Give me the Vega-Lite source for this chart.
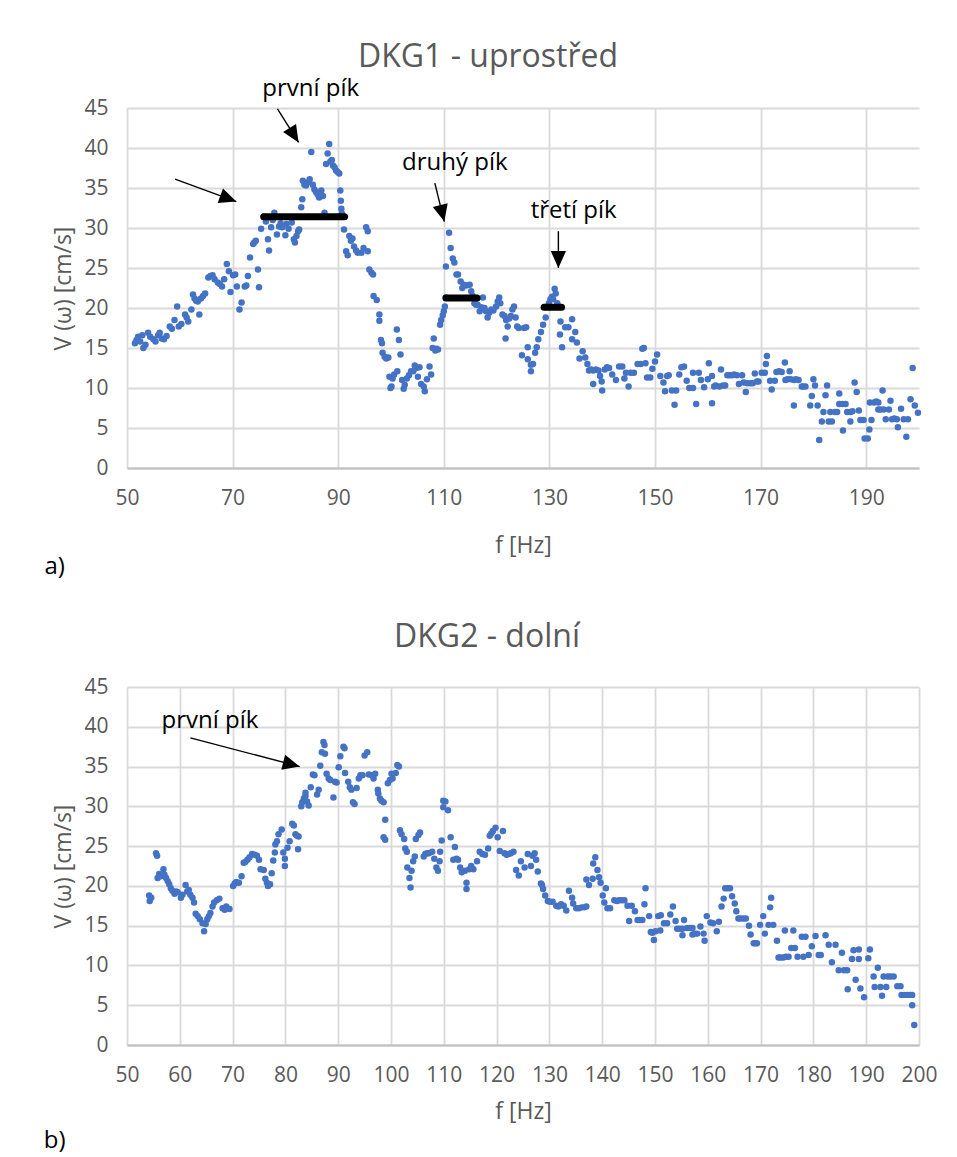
{
  "$schema": "https://vega.github.io/schema/vega-lite/v6.json",
  "background": "white",
  "padding": {"left": 43, "top": 41, "right": 10, "bottom": 5},
  "spacing": 41,
  "config": {
    "view": {"stroke": null},
    "font": "Open Sans",
    "axis": {
      "labelFont": "Open Sans", "labelFontSize": 21, "labelColor": "#595959", "labelOverlap": false, "labelFlush": false,
      "titleFont": "Open Sans", "titleFontSize": 23, "titleColor": "#595959", "titleFontWeight": "normal",
      "gridColor": "#d9d9d9", "gridWidth": 1.8, "ticks": false, "domain": false
    },
    "axisX": {"domain": true, "domainColor": "#bfbfbf", "domainWidth": 1.8, "labelPadding": 19, "titlePadding": 26},
    "axisY": {"labelPadding": 19, "titlePadding": 8},
    "title": {"font": "Open Sans", "fontSize": 32, "color": "#595959", "fontWeight": "normal", "anchor": "middle"}
  },
  "datasets": {
    "dkg1": [
      {"f":51.5,"v":15.6},{"f":51.8,"v":16.0},{"f":52.1,"v":16.4},{"f":52.5,"v":15.8},{"f":52.9,"v":16.6},{"f":53.1,"v":15.0},{"f":53.5,"v":15.4},{"f":54.0,"v":16.9},{"f":54.4,"v":16.4},{"f":55.0,"v":16.1},
      {"f":55.4,"v":15.8},{"f":55.9,"v":16.6},{"f":56.2,"v":16.9},{"f":56.6,"v":16.2},{"f":57.0,"v":16.1},{"f":57.5,"v":16.5},{"f":58.1,"v":17.7},{"f":58.5,"v":17.4},{"f":59.0,"v":18.5},{"f":59.5,"v":20.2},
      {"f":59.8,"v":17.7},{"f":60.3,"v":18.0},{"f":61.0,"v":19.2},{"f":61.3,"v":18.8},{"f":61.6,"v":18.3},{"f":62.2,"v":19.8},{"f":62.5,"v":21.7},{"f":62.8,"v":21.2},{"f":63.1,"v":20.9},{"f":63.4,"v":20.8},
      {"f":63.7,"v":19.2},{"f":64.0,"v":21.2},{"f":64.4,"v":21.5},{"f":64.8,"v":21.8},{"f":65.4,"v":23.8},{"f":65.8,"v":24.0},{"f":66.2,"v":24.1},{"f":66.6,"v":23.6},{"f":67.2,"v":23.2},{"f":67.6,"v":23.0},
      {"f":68.0,"v":22.7},{"f":68.4,"v":23.6},{"f":68.9,"v":25.5},{"f":69.3,"v":24.6},{"f":69.6,"v":22.0},{"f":70.1,"v":24.1},{"f":70.5,"v":24.2},{"f":70.8,"v":22.7},{"f":71.3,"v":19.8},{"f":71.7,"v":20.7},
      {"f":72.3,"v":22.7},{"f":72.6,"v":22.8},{"f":72.9,"v":24.0},{"f":73.3,"v":26.3},{"f":73.9,"v":28.0},{"f":74.1,"v":28.2},{"f":74.4,"v":28.4},{"f":74.8,"v":24.8},{"f":75.0,"v":22.6},{"f":75.4,"v":29.9},
      {"f":75.9,"v":31.4},{"f":76.3,"v":30.8},{"f":76.7,"v":28.6},{"f":76.9,"v":27.2},{"f":77.3,"v":30.1},{"f":77.6,"v":31.0},{"f":77.9,"v":31.9},{"f":78.4,"v":29.2},{"f":78.8,"v":30.2},{"f":79.1,"v":30.6},
      {"f":79.4,"v":30.1},{"f":80.0,"v":29.1},{"f":80.2,"v":30.5},{"f":80.6,"v":29.9},{"f":81.2,"v":30.7},{"f":81.6,"v":28.6},{"f":81.8,"v":28.2},{"f":82.1,"v":29.0},{"f":82.4,"v":29.6},{"f":82.6,"v":29.8},
      {"f":83.0,"v":32.6},{"f":83.2,"v":33.6},{"f":83.3,"v":35.9},{"f":83.6,"v":35.4},{"f":83.9,"v":35.3},{"f":84.2,"v":35.7},{"f":84.6,"v":36.1},{"f":84.9,"v":39.5},{"f":85.2,"v":35.4},{"f":85.5,"v":34.8},
      {"f":85.8,"v":34.5},{"f":86.1,"v":34.2},{"f":86.4,"v":33.8},{"f":86.8,"v":34.7},{"f":87.1,"v":34.0},{"f":87.4,"v":31.9},{"f":87.7,"v":38.0},{"f":88.0,"v":39.3},{"f":88.3,"v":40.5},{"f":88.5,"v":38.3},
      {"f":88.8,"v":38.5},{"f":89.0,"v":37.8},{"f":89.3,"v":37.6},{"f":89.6,"v":37.2},{"f":89.9,"v":37.0},{"f":90.2,"v":36.8},{"f":90.4,"v":34.7},{"f":90.5,"v":33.4},{"f":90.6,"v":32.4},{"f":90.7,"v":31.8},
      {"f":91.1,"v":29.8},{"f":91.5,"v":27.1},{"f":91.8,"v":26.6},{"f":92.1,"v":29.0},{"f":92.4,"v":28.4},{"f":92.7,"v":28.7},{"f":93.0,"v":27.7},{"f":93.4,"v":27.2},{"f":93.7,"v":26.9},{"f":94.4,"v":26.9},
      {"f":94.8,"v":27.5},{"f":95.3,"v":30.1},{"f":95.6,"v":29.6},{"f":95.6,"v":27.1},{"f":95.9,"v":24.8},{"f":96.3,"v":24.4},{"f":96.6,"v":24.2},{"f":96.7,"v":21.5},{"f":97.3,"v":21.0},{"f":97.8,"v":19.2},
      {"f":97.8,"v":18.4},{"f":98.1,"v":16.0},{"f":98.3,"v":15.6},{"f":98.4,"v":14.4},{"f":98.8,"v":13.9},{"f":99.1,"v":13.7},{"f":99.5,"v":13.8},{"f":99.7,"v":11.4},{"f":99.9,"v":10.0},{"f":100.1,"v":10.2},
      {"f":100.3,"v":11.2},{"f":100.6,"v":11.7},{"f":101.1,"v":17.3},{"f":101.2,"v":12.1},{"f":101.5,"v":16.0},{"f":101.8,"v":14.2},{"f":102.1,"v":11.0},{"f":102.4,"v":9.9},{"f":102.6,"v":10.4},{"f":103.0,"v":11.2},
      {"f":103.4,"v":11.6},{"f":103.8,"v":12.1},{"f":104.2,"v":12.1},{"f":104.5,"v":12.8},{"f":104.8,"v":12.5},{"f":105.1,"v":11.4},{"f":105.4,"v":12.6},{"f":105.7,"v":10.5},{"f":106.2,"v":10.2},{"f":106.4,"v":9.6},
      {"f":106.8,"v":11.1},{"f":107.3,"v":12.7},{"f":107.6,"v":11.7},{"f":107.9,"v":15.0},{"f":108.1,"v":16.2},{"f":108.4,"v":14.7},{"f":108.6,"v":14.9},{"f":108.9,"v":14.8},{"f":109.3,"v":17.9},{"f":109.5,"v":18.5},
      {"f":109.8,"v":19.1},{"f":110.0,"v":19.6},{"f":110.2,"v":20.2},{"f":110.4,"v":21.3},{"f":110.4,"v":25.2},{"f":111.0,"v":29.4},{"f":111.3,"v":27.5},{"f":111.7,"v":26.2},{"f":112.0,"v":25.7},{"f":112.4,"v":24.2},
      {"f":112.7,"v":24.2},{"f":113.2,"v":23.3},{"f":113.5,"v":22.5},{"f":113.8,"v":22.9},{"f":114.3,"v":22.8},{"f":114.9,"v":22.9},{"f":115.2,"v":22.1},{"f":115.5,"v":21.5},{"f":115.8,"v":20.6},{"f":116.1,"v":20.4},
      {"f":116.4,"v":20.4},{"f":116.8,"v":19.6},{"f":117.1,"v":20.1},{"f":117.4,"v":21.3},{"f":117.7,"v":20.0},{"f":118.0,"v":19.6},{"f":118.3,"v":18.8},{"f":118.6,"v":19.4},{"f":119.0,"v":19.8},{"f":119.4,"v":19.7},
      {"f":119.9,"v":20.2},{"f":120.2,"v":20.8},{"f":120.5,"v":21.3},{"f":120.7,"v":20.6},{"f":121.1,"v":19.2},{"f":121.5,"v":19.0},{"f":121.7,"v":16.2},{"f":121.8,"v":18.5},{"f":122.1,"v":17.7},{"f":122.4,"v":18.7},
      {"f":122.7,"v":19.0},{"f":123.0,"v":19.8},{"f":123.3,"v":20.2},{"f":123.6,"v":18.8},{"f":123.9,"v":17.7},{"f":124.2,"v":17.5},{"f":124.8,"v":14.1},{"f":125.2,"v":17.5},{"f":125.6,"v":17.6},{"f":125.9,"v":15.1},
      {"f":125.9,"v":13.6},{"f":126.5,"v":12.9},{"f":126.5,"v":12.1},{"f":126.9,"v":13.0},{"f":127.3,"v":14.4},{"f":127.6,"v":15.1},{"f":127.9,"v":16.1},{"f":128.4,"v":17.0},{"f":128.8,"v":17.9},{"f":129.3,"v":18.8},
      {"f":129.9,"v":20.6},{"f":130.2,"v":21.1},{"f":130.5,"v":21.4},{"f":130.7,"v":21.1},{"f":131.0,"v":22.4},{"f":131.2,"v":21.8},{"f":131.5,"v":20.6},{"f":132.1,"v":18.3},{"f":132.0,"v":16.7},{"f":132.4,"v":15.1},
      {"f":133.0,"v":17.6},{"f":133.6,"v":17.6},{"f":134.3,"v":18.6},{"f":134.3,"v":16.1},{"f":134.9,"v":17.0},{"f":135.2,"v":15.7},{"f":135.7,"v":13.7},{"f":136.3,"v":14.6},{"f":136.8,"v":13.8},{"f":137.2,"v":13.0},
      {"f":137.5,"v":12.2},{"f":137.9,"v":12.3},{"f":138.3,"v":12.2},{"f":138.3,"v":10.5},{"f":138.8,"v":12.3},{"f":139.3,"v":12.2},{"f":139.6,"v":11.5},{"f":139.9,"v":10.8},{"f":140.0,"v":9.7},{"f":140.5,"v":12.3},
      {"f":140.9,"v":12.6},{"f":141.3,"v":12.5},{"f":141.9,"v":11.7},{"f":142.6,"v":11.0},{"f":143.2,"v":12.7},{"f":143.8,"v":12.7},{"f":144.2,"v":11.2},{"f":144.5,"v":11.9},{"f":145.0,"v":10.2},{"f":145.4,"v":11.9},
      {"f":146.0,"v":11.9},{"f":146.7,"v":13.0},{"f":147.3,"v":13.0},{"f":147.6,"v":14.9},{"f":147.9,"v":15.0},{"f":148.2,"v":13.1},{"f":148.5,"v":11.3},{"f":149.1,"v":11.3},{"f":149.5,"v":12.4},{"f":150.0,"v":13.3},
      {"f":150.4,"v":14.2},{"f":151.0,"v":11.5},{"f":151.6,"v":10.7},{"f":151.9,"v":9.6},{"f":152.3,"v":11.5},{"f":152.6,"v":11.6},{"f":153.2,"v":9.7},{"f":153.7,"v":7.9},{"f":154.0,"v":9.7},{"f":154.6,"v":11.7},
      {"f":155.0,"v":12.6},{"f":155.5,"v":12.7},{"f":156.0,"v":10.9},{"f":156.5,"v":10.0},{"f":157.2,"v":10.0},{"f":157.2,"v":11.9},{"f":157.8,"v":8.0},{"f":158.3,"v":11.9},{"f":158.7,"v":11.0},{"f":159.3,"v":10.1},
      {"f":160.0,"v":11.1},{"f":160.2,"v":13.1},{"f":160.8,"v":8.1},{"f":160.8,"v":11.5},{"f":161.2,"v":10.2},{"f":161.5,"v":10.3},{"f":162.2,"v":10.2},{"f":162.5,"v":12.3},{"f":162.9,"v":10.3},{"f":163.3,"v":10.3},
      {"f":163.7,"v":11.6},{"f":164.1,"v":11.6},{"f":164.6,"v":11.6},{"f":165.0,"v":11.7},{"f":165.5,"v":11.6},{"f":165.9,"v":10.5},{"f":166.5,"v":11.6},{"f":166.8,"v":10.7},{"f":167.2,"v":9.5},{"f":167.5,"v":10.6},
      {"f":168.1,"v":10.6},{"f":168.5,"v":10.6},{"f":168.9,"v":11.8},{"f":169.3,"v":10.8},{"f":169.6,"v":10.8},{"f":170.2,"v":11.9},{"f":170.8,"v":11.9},{"f":171.0,"v":13.0},{"f":171.2,"v":14.0},{"f":171.8,"v":10.9},
      {"f":172.1,"v":9.8},{"f":172.7,"v":10.9},{"f":173.0,"v":12.0},{"f":173.5,"v":12.1},{"f":174.0,"v":12.0},{"f":174.6,"v":13.2},{"f":174.7,"v":11.0},{"f":175.1,"v":11.1},{"f":175.5,"v":12.1},{"f":175.7,"v":11.1},
      {"f":176.3,"v":11.0},{"f":176.3,"v":7.8},{"f":176.7,"v":11.1},{"f":177.2,"v":11.0},{"f":177.8,"v":10.2},{"f":178.1,"v":10.2},{"f":178.5,"v":10.2},{"f":179.4,"v":7.8},{"f":179.7,"v":9.0},{"f":180.0,"v":11.1},
      {"f":180.3,"v":10.3},{"f":180.8,"v":7.8},{"f":181.1,"v":3.5},{"f":181.6,"v":5.8},{"f":181.9,"v":7.0},{"f":182.3,"v":9.1},{"f":182.6,"v":10.3},{"f":182.9,"v":5.8},{"f":183.2,"v":7.0},{"f":183.5,"v":5.8},
      {"f":184.1,"v":7.0},{"f":184.5,"v":7.0},{"f":184.9,"v":9.3},{"f":184.9,"v":8.0},{"f":185.5,"v":8.0},{"f":185.6,"v":4.7},{"f":186.1,"v":8.0},{"f":186.4,"v":7.0},{"f":187.0,"v":7.0},{"f":187.0,"v":5.8},
      {"f":187.4,"v":7.1},{"f":187.8,"v":10.7},{"f":188.2,"v":9.5},{"f":188.6,"v":7.2},{"f":188.9,"v":6.0},{"f":189.5,"v":6.0},{"f":189.7,"v":3.7},{"f":190.3,"v":3.7},{"f":190.6,"v":4.8},{"f":190.7,"v":8.2},
      {"f":191.0,"v":6.0},{"f":191.5,"v":8.2},{"f":191.9,"v":8.3},{"f":192.3,"v":8.2},{"f":192.3,"v":7.3},{"f":192.7,"v":7.3},{"f":193.1,"v":9.7},{"f":193.3,"v":7.3},{"f":193.7,"v":6.1},{"f":194.3,"v":7.3},
      {"f":194.6,"v":8.4},{"f":194.9,"v":6.1},{"f":195.3,"v":6.2},{"f":195.8,"v":6.1},{"f":196.0,"v":5.1},{"f":196.6,"v":7.4},{"f":197.1,"v":6.1},{"f":197.6,"v":3.9},{"f":197.9,"v":6.1},{"f":198.4,"v":8.6},
      {"f":198.8,"v":12.5},{"f":199.2,"v":7.8},{"f":199.8,"v":6.9}
    ],
    "dkg2": [
      {"f":54.2,"v":18.8},{"f":54.3,"v":18.1},{"f":54.6,"v":18.5},{"f":55.5,"v":24.1},{"f":55.7,"v":23.8},{"f":55.8,"v":21.0},{"f":56.1,"v":21.5},{"f":56.4,"v":21.2},{"f":56.9,"v":22.1},{"f":57.1,"v":21.4},
      {"f":57.4,"v":21.0},{"f":57.7,"v":20.6},{"f":58.0,"v":20.2},{"f":58.3,"v":19.7},{"f":58.6,"v":19.4},{"f":59.0,"v":19.0},{"f":59.3,"v":19.3},{"f":59.6,"v":19.2},{"f":60.2,"v":18.5},{"f":60.5,"v":18.9},
      {"f":61.1,"v":20.1},{"f":61.4,"v":19.3},{"f":61.7,"v":19.5},{"f":62.0,"v":18.9},{"f":62.4,"v":18.5},{"f":62.7,"v":17.9},{"f":63.0,"v":16.5},{"f":63.4,"v":16.2},{"f":63.8,"v":15.8},{"f":64.3,"v":15.3},
      {"f":64.6,"v":14.3},{"f":64.9,"v":15.2},{"f":65.2,"v":15.8},{"f":65.5,"v":16.2},{"f":65.8,"v":16.6},{"f":66.2,"v":17.4},{"f":66.5,"v":17.9},{"f":67.0,"v":18.2},{"f":67.5,"v":18.4},{"f":68.1,"v":17.2},
      {"f":68.5,"v":17.0},{"f":68.8,"v":17.4},{"f":69.4,"v":17.1},{"f":70.1,"v":20.0},{"f":70.4,"v":20.3},{"f":70.7,"v":20.5},{"f":71.2,"v":20.4},{"f":71.7,"v":21.2},{"f":72.1,"v":22.9},{"f":72.4,"v":23.0},
      {"f":72.8,"v":23.3},{"f":73.2,"v":23.6},{"f":73.7,"v":24.0},{"f":74.2,"v":23.9},{"f":74.6,"v":23.8},{"f":75.0,"v":23.3},{"f":75.3,"v":22.1},{"f":75.9,"v":22.0},{"f":76.2,"v":20.9},{"f":76.5,"v":20.4},
      {"f":76.7,"v":20.0},{"f":77.1,"v":20.2},{"f":77.4,"v":21.6},{"f":77.7,"v":23.2},{"f":78.0,"v":24.2},{"f":78.1,"v":25.2},{"f":78.4,"v":25.6},{"f":78.7,"v":26.5},{"f":79.3,"v":27.1},{"f":79.6,"v":24.2},
      {"f":79.9,"v":23.4},{"f":79.9,"v":22.5},{"f":80.4,"v":24.8},{"f":80.8,"v":25.6},{"f":81.3,"v":27.8},{"f":81.6,"v":27.6},{"f":81.9,"v":26.5},{"f":82.2,"v":26.3},{"f":82.4,"v":24.6},{"f":82.5,"v":26.2},
      {"f":83.0,"v":30.0},{"f":83.2,"v":30.5},{"f":83.5,"v":31.0},{"f":83.8,"v":31.3},{"f":83.8,"v":31.7},{"f":84.1,"v":30.6},{"f":84.4,"v":30.1},{"f":84.8,"v":32.4},{"f":85.2,"v":34.0},{"f":85.5,"v":33.9},
      {"f":86.0,"v":31.5},{"f":86.3,"v":32.1},{"f":86.6,"v":35.1},{"f":86.9,"v":36.8},{"f":87.2,"v":38.1},{"f":87.4,"v":37.7},{"f":87.5,"v":36.6},{"f":87.8,"v":34.1},{"f":88.2,"v":33.5},{"f":88.5,"v":33.3},
      {"f":89.1,"v":31.1},{"f":89.4,"v":33.1},{"f":89.7,"v":33.0},{"f":90.1,"v":34.9},{"f":90.4,"v":36.3},{"f":91.0,"v":37.5},{"f":91.2,"v":37.3},{"f":91.3,"v":34.2},{"f":91.9,"v":33.1},{"f":92.2,"v":32.4},
      {"f":92.5,"v":32.1},{"f":92.8,"v":30.5},{"f":93.1,"v":30.3},{"f":93.5,"v":32.3},{"f":93.9,"v":33.5},{"f":94.2,"v":33.9},{"f":94.6,"v":33.9},{"f":95.0,"v":36.4},{"f":95.5,"v":36.8},{"f":95.8,"v":34.0},
      {"f":96.4,"v":33.9},{"f":96.7,"v":33.5},{"f":97.0,"v":34.1},{"f":97.5,"v":32.1},{"f":97.6,"v":31.6},{"f":97.9,"v":31.0},{"f":98.2,"v":30.7},{"f":98.6,"v":30.5},{"f":98.6,"v":26.1},{"f":98.9,"v":28.3},
      {"f":98.9,"v":25.8},{"f":99.4,"v":32.9},{"f":99.8,"v":33.3},{"f":100.1,"v":34.1},{"f":100.3,"v":33.5},{"f":100.9,"v":34.2},{"f":101.2,"v":35.2},{"f":101.5,"v":35.0},{"f":101.7,"v":27.0},{"f":102.0,"v":26.5},
      {"f":102.5,"v":25.9},{"f":102.7,"v":24.7},{"f":103.0,"v":24.3},{"f":103.1,"v":22.3},{"f":103.5,"v":21.0},{"f":103.7,"v":19.8},{"f":103.9,"v":21.9},{"f":104.2,"v":23.1},{"f":104.5,"v":23.7},{"f":104.7,"v":25.9},
      {"f":105.2,"v":26.4},{"f":105.5,"v":26.7},{"f":106.2,"v":23.7},{"f":106.5,"v":24.0},{"f":106.8,"v":24.1},{"f":107.2,"v":24.1},{"f":107.8,"v":24.3},{"f":108.2,"v":23.4},{"f":108.6,"v":22.3},{"f":108.9,"v":21.9},
      {"f":109.2,"v":23.1},{"f":109.3,"v":24.3},{"f":109.6,"v":25.7},{"f":109.9,"v":30.7},{"f":109.9,"v":29.9},{"f":110.3,"v":30.6},{"f":110.8,"v":29.5},{"f":111.3,"v":26.1},{"f":111.8,"v":23.3},{"f":112.1,"v":24.9},
      {"f":112.4,"v":23.4},{"f":112.7,"v":23.3},{"f":113.1,"v":22.3},{"f":113.4,"v":21.7},{"f":114.0,"v":21.9},{"f":114.3,"v":20.4},{"f":114.3,"v":19.6},{"f":114.8,"v":22.1},{"f":115.2,"v":22.5},{"f":115.6,"v":22.1},
      {"f":116.3,"v":23.1},{"f":116.8,"v":24.3},{"f":117.3,"v":24.0},{"f":117.8,"v":23.9},{"f":118.4,"v":24.7},{"f":118.7,"v":26.3},{"f":119.0,"v":26.6},{"f":119.3,"v":26.9},{"f":119.8,"v":27.3},{"f":120.2,"v":26.1},
      {"f":120.6,"v":24.4},{"f":121.2,"v":26.9},{"f":121.5,"v":24.1},{"f":121.9,"v":23.9},{"f":122.3,"v":24.0},{"f":122.7,"v":24.1},{"f":123.2,"v":24.3},{"f":123.7,"v":22.0},{"f":124.2,"v":21.3},{"f":124.6,"v":23.1},
      {"f":125.3,"v":22.3},{"f":125.9,"v":24.0},{"f":126.5,"v":22.5},{"f":126.8,"v":23.8},{"f":127.2,"v":24.1},{"f":127.5,"v":23.3},{"f":127.8,"v":21.8},{"f":128.4,"v":20.3},{"f":128.6,"v":20.1},{"f":128.8,"v":19.6},
      {"f":129.2,"v":18.8},{"f":129.7,"v":18.1},{"f":130.1,"v":18.0},{"f":130.6,"v":18.0},{"f":131.3,"v":17.5},{"f":131.7,"v":17.4},{"f":132.2,"v":17.7},{"f":132.7,"v":17.5},{"f":133.2,"v":16.9},{"f":133.7,"v":19.4},
      {"f":134.3,"v":18.5},{"f":134.5,"v":17.8},{"f":135.1,"v":17.2},{"f":135.6,"v":17.2},{"f":136.1,"v":17.3},{"f":136.6,"v":17.3},{"f":137.0,"v":17.4},{"f":137.0,"v":20.8},{"f":137.5,"v":20.1},{"f":138.2,"v":20.9},
      {"f":138.3,"v":22.8},{"f":138.7,"v":23.6},{"f":139.1,"v":22.0},{"f":139.4,"v":21.1},{"f":139.7,"v":20.4},{"f":140.1,"v":18.8},{"f":140.4,"v":17.9},{"f":140.7,"v":19.7},{"f":141.0,"v":17.2},{"f":141.5,"v":17.2},
      {"f":142.3,"v":18.2},{"f":142.8,"v":18.1},{"f":143.2,"v":18.2},{"f":143.7,"v":18.2},{"f":144.2,"v":18.2},{"f":144.8,"v":17.5},{"f":145.1,"v":15.6},{"f":145.6,"v":17.5},{"f":146.2,"v":16.8},{"f":146.7,"v":15.7},
      {"f":147.1,"v":15.7},{"f":147.6,"v":15.7},{"f":148.0,"v":17.7},{"f":148.2,"v":19.7},{"f":148.9,"v":16.2},{"f":149.2,"v":14.2},{"f":149.5,"v":14.1},{"f":149.8,"v":13.2},{"f":150.1,"v":14.3},{"f":150.6,"v":16.2},
      {"f":151.0,"v":14.4},{"f":151.1,"v":16.3},{"f":151.7,"v":15.3},{"f":152.3,"v":15.3},{"f":152.9,"v":16.4},{"f":153.4,"v":17.4},{"f":153.9,"v":15.6},{"f":154.2,"v":14.6},{"f":154.7,"v":14.6},{"f":155.2,"v":14.6},
      {"f":155.2,"v":13.8},{"f":155.5,"v":15.7},{"f":156.1,"v":14.7},{"f":156.6,"v":14.7},{"f":157.1,"v":14.7},{"f":157.1,"v":13.9},{"f":157.6,"v":14.0},{"f":158.0,"v":14.0},{"f":158.6,"v":14.9},{"f":159.2,"v":14.0},
      {"f":159.4,"v":13.1},{"f":159.8,"v":16.2},{"f":160.5,"v":15.4},{"f":161.0,"v":15.3},{"f":161.7,"v":14.3},{"f":162.1,"v":15.5},{"f":162.6,"v":17.4},{"f":163.0,"v":18.4},{"f":163.3,"v":19.7},{"f":163.7,"v":19.7},
      {"f":164.2,"v":19.7},{"f":164.6,"v":18.7},{"f":165.1,"v":17.8},{"f":165.4,"v":16.8},{"f":165.8,"v":15.9},{"f":166.2,"v":15.9},{"f":166.7,"v":15.9},{"f":167.2,"v":15.9},{"f":167.8,"v":15.0},{"f":168.1,"v":13.9},
      {"f":168.7,"v":12.8},{"f":169.0,"v":12.8},{"f":169.3,"v":12.8},{"f":169.9,"v":15.1},{"f":170.5,"v":16.2},{"f":170.8,"v":14.0},{"f":171.5,"v":15.1},{"f":171.8,"v":17.3},{"f":172.0,"v":18.5},{"f":172.4,"v":15.1},
      {"f":173.1,"v":13.1},{"f":173.4,"v":11.0},{"f":173.8,"v":11.0},{"f":174.3,"v":11.0},{"f":174.6,"v":14.4},{"f":174.8,"v":11.1},{"f":175.3,"v":11.1},{"f":175.8,"v":12.2},{"f":176.2,"v":14.4},{"f":176.5,"v":12.2},
      {"f":177.0,"v":11.1},{"f":177.8,"v":13.6},{"f":178.1,"v":11.1},{"f":178.5,"v":13.6},{"f":179.1,"v":11.3},{"f":179.7,"v":12.4},{"f":180.4,"v":13.7},{"f":181.0,"v":11.3},{"f":181.4,"v":11.3},{"f":182.3,"v":13.8},
      {"f":182.9,"v":12.6},{"f":183.5,"v":10.4},{"f":184.2,"v":12.6},{"f":184.8,"v":9.4},{"f":185.4,"v":11.6},{"f":185.8,"v":9.4},{"f":186.4,"v":9.4},{"f":186.5,"v":7.0},{"f":187.3,"v":10.8},{"f":187.6,"v":11.9},
      {"f":188.0,"v":8.2},{"f":188.6,"v":10.8},{"f":188.6,"v":12.0},{"f":188.9,"v":7.1},{"f":189.6,"v":6.0},{"f":190.4,"v":10.9},{"f":190.7,"v":12.0},{"f":191.4,"v":8.6},{"f":191.6,"v":7.3},{"f":192.2,"v":9.7},
      {"f":192.7,"v":7.3},{"f":193.0,"v":6.2},{"f":193.3,"v":8.6},{"f":193.8,"v":7.3},{"f":194.1,"v":8.6},{"f":194.6,"v":8.6},{"f":195.2,"v":8.6},{"f":195.9,"v":7.4},{"f":196.5,"v":7.4},{"f":196.7,"v":6.3},
      {"f":197.2,"v":6.3},{"f":197.8,"v":6.3},{"f":198.3,"v":6.3},{"f":198.7,"v":6.3},{"f":198.7,"v":5.0},{"f":199.1,"v":2.5}
    ],
    "bars1": [
      {"f":75.9,"f2":91.2,"v":31.4},
      {"f":110.4,"f2":116.3,"v":21.25},
      {"f":129.0,"f2":132.3,"v":20.1}
    ],
    "arrows1": [
      {"f":78.5,"v":44.9,"f2":82.5,"v2":40.7},
      {"f":59.1,"v":36.1,"f2":70.7,"v2":33.3},
      {"f":108.3,"v":35.6,"f2":110.1,"v2":30.8},
      {"f":131.7,"v":29.6,"f2":131.7,"v2":25.0}
    ],
    "labels1": [
      {"f":84.8,"v":47.35,"t":"první pík"},
      {"f":112.1,"v":38.1,"t":"druhý pík"},
      {"f":134.6,"v":32.1,"t":"třetí pík"},
      {"f":36.3,"v":-12.4,"t":"a)"}
    ],
    "arrows2": [
      {"f":62.0,"v":38.6,"f2":82.7,"v2":35.0}
    ],
    "labels2": [
      {"f":65.7,"v":40.7,"t":"první pík"},
      {"f":36.3,"v":-12.1,"t":"b)"}
    ]
  },
  "vconcat": [
    {
      "width": 792,
      "height": 360,
      "title": {"text": "DKG1 - uprostřed", "dx": -35, "offset": 3},
      "layer": [
        {
          "data": {"name": "dkg1"},
          "mark": {"type": "circle", "size": 42, "color": "#4472C4", "opacity": 1},
          "encoding": {
            "x": {"field": "f", "type": "quantitative", "scale": {"domain": [50, 200], "nice": false, "zero": false},
                  "axis": {"values": [50, 70, 90, 110, 130, 150, 170, 190], "tickCount": 30, "title": "f [Hz]"}},
            "y": {"field": "v", "type": "quantitative", "scale": {"domain": [0, 45], "nice": false},
                  "axis": {"values": [0, 5, 10, 15, 20, 25, 30, 35, 40, 45], "tickCount": 20, "title": "V (ω) [cm/s]"}}
          }
        },
        {
          "data": {"name": "bars1"},
          "mark": {"type": "rule", "strokeWidth": 7, "strokeCap": "round", "color": "black"},
          "encoding": {
            "x": {"field": "f", "type": "quantitative"},
            "x2": {"field": "f2"},
            "y": {"field": "v", "type": "quantitative"}
          }
        },
        {
          "data": {"name": "arrows1"},
          "mark": {"type": "rule", "strokeWidth": 1.4, "color": "black"},
          "encoding": {
            "x": {"field": "f", "type": "quantitative"},
            "x2": {"field": "f2"},
            "y": {"field": "v", "type": "quantitative"},
            "y2": {"field": "v2"}
          }
        },
        {
          "data": {"name": "arrows1"},
          "transform": [{"calculate": "atan2((datum.f2 - datum.f) * 5.28, (datum.v2 - datum.v) * 8) * 180 / PI", "as": "angle"}],
          "mark": {"type": "point", "shape": "M0,0L-0.45,1L0.45,1Z", "size": 1156, "filled": true, "color": "black", "opacity": 1, "strokeWidth": 0},
          "encoding": {
            "x": {"field": "f2", "type": "quantitative"},
            "y": {"field": "v2", "type": "quantitative"},
            "angle": {"field": "angle", "type": "quantitative", "scale": null}
          }
        },
        {
          "data": {"name": "labels1"},
          "mark": {"type": "text", "font": "Open Sans", "fontSize": 24, "color": "black", "align": "center", "baseline": "middle"},
          "encoding": {
            "x": {"field": "f", "type": "quantitative"},
            "y": {"field": "v", "type": "quantitative"},
            "text": {"field": "t"}
          }
        }
      ]
    },
    {
      "width": 792,
      "height": 358,
      "title": {"text": "DKG2 - dolní", "dx": -36, "offset": 22},
      "layer": [
        {
          "data": {"name": "dkg2"},
          "mark": {"type": "circle", "size": 42, "color": "#4472C4", "opacity": 1},
          "encoding": {
            "x": {"field": "f", "type": "quantitative", "scale": {"domain": [50, 200], "nice": false, "zero": false},
                  "axis": {"values": [50, 60, 70, 80, 90, 100, 110, 120, 130, 140, 150, 160, 170, 180, 190, 200], "tickCount": 30, "title": "f [Hz]", "titlePadding": 15}},
            "y": {"field": "v", "type": "quantitative", "scale": {"domain": [0, 45], "nice": false},
                  "axis": {"values": [0, 5, 10, 15, 20, 25, 30, 35, 40, 45], "tickCount": 20, "title": "V (ω) [cm/s]"}}
          }
        },
        {
          "data": {"name": "arrows2"},
          "mark": {"type": "rule", "strokeWidth": 1.4, "color": "black"},
          "encoding": {
            "x": {"field": "f", "type": "quantitative"},
            "x2": {"field": "f2"},
            "y": {"field": "v", "type": "quantitative"},
            "y2": {"field": "v2"}
          }
        },
        {
          "data": {"name": "arrows2"},
          "transform": [{"calculate": "atan2((datum.f2 - datum.f) * 5.28, (datum.v2 - datum.v) * 7.96) * 180 / PI", "as": "angle"}],
          "mark": {"type": "point", "shape": "M0,0L-0.45,1L0.45,1Z", "size": 1156, "filled": true, "color": "black", "opacity": 1, "strokeWidth": 0},
          "encoding": {
            "x": {"field": "f2", "type": "quantitative"},
            "y": {"field": "v2", "type": "quantitative"},
            "angle": {"field": "angle", "type": "quantitative", "scale": null}
          }
        },
        {
          "data": {"name": "labels2"},
          "mark": {"type": "text", "font": "Open Sans", "fontSize": 24, "color": "black", "align": "center", "baseline": "middle"},
          "encoding": {
            "x": {"field": "f", "type": "quantitative"},
            "y": {"field": "v", "type": "quantitative"},
            "text": {"field": "t"}
          }
        }
      ]
    }
  ]
}
